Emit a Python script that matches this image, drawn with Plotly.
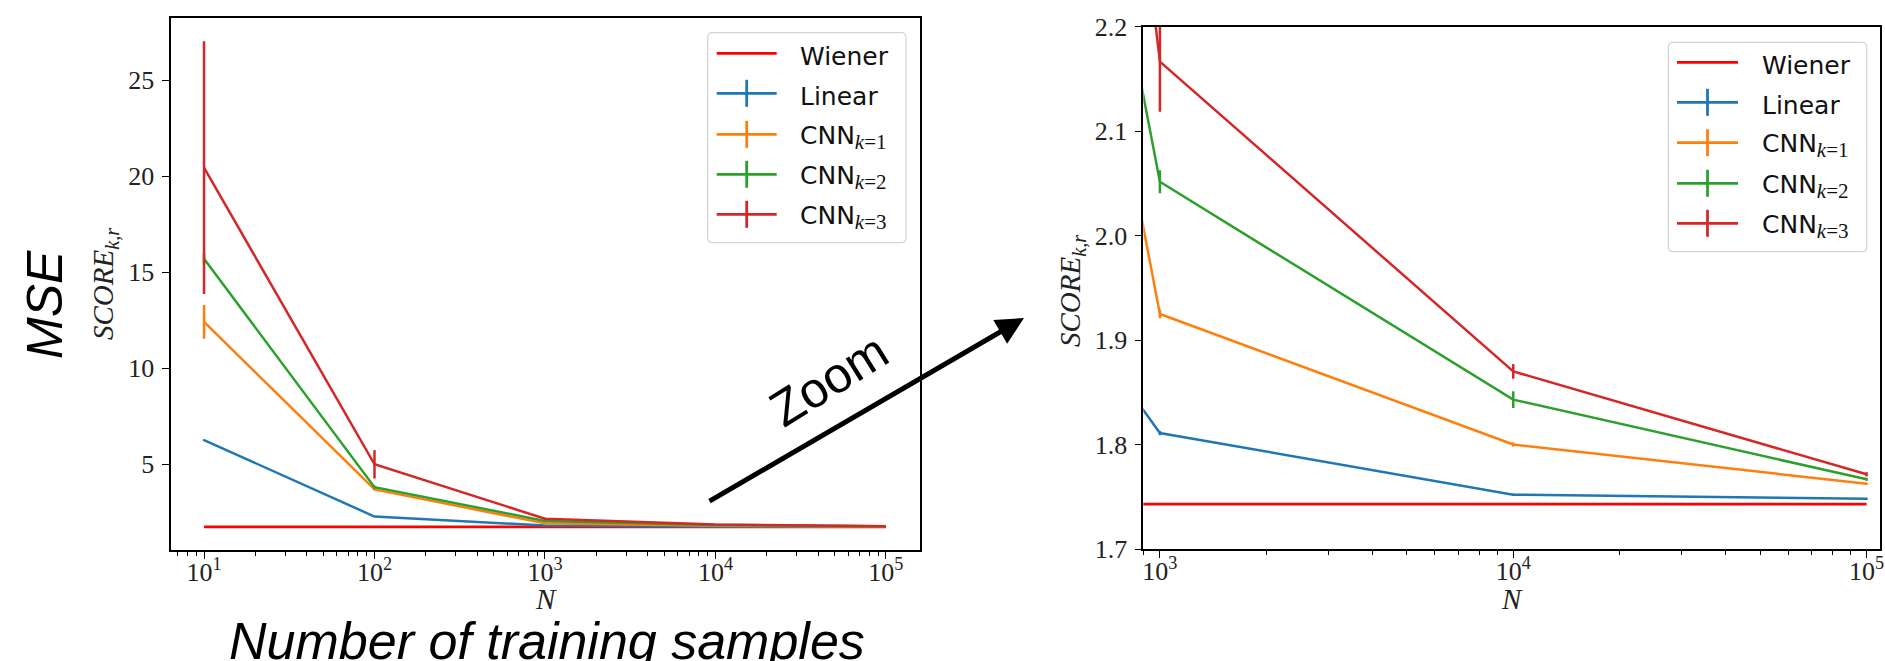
import plotly.graph_objects as go

# ---------------- data ----------------
N = [10, 100, 1000, 10000, 100000]
wiener = [1.743, 1.743, 1.743, 1.743, 1.743]
linear_mean = [6.26, 2.28, 1.811, 1.752, 1.748]
linear_err = [0.05, 0.01, 0.002, 0.001, 0.001]
cnn1_mean = [12.42, 3.69, 1.925, 1.800, 1.7625]
cnn1_err = [0.88, 0.05, 0.004, 0.002, 0.001]
cnn2_mean = [15.70, 3.81, 2.0515, 1.843, 1.7667]
cnn2_err = [0.30, 0.08, 0.011, 0.008, 0.0015]
cnn3_mean = [20.45, 5.00, 2.1665, 1.870, 1.7715]
cnn3_err = [6.58, 0.74, 0.048, 0.007, 0.002]

SUBF = "font-family:Liberation Serif;font-size:21px"
names = ["Wiener", "Linear",
         f"CNN<sub><span style='{SUBF}'><i>k</i>=1</span></sub>",
         f"CNN<sub><span style='{SUBF}'><i>k</i>=2</span></sub>",
         f"CNN<sub><span style='{SUBF}'><i>k</i>=3</span></sub>"]
colors = ["#ff0000", "#1f77b4", "#ff7f0e", "#2ca02c", "#d62728"]
means = [wiener, linear_mean, cnn1_mean, cnn2_mean, cnn3_mean]
errs = [None, linear_err, cnn1_err, cnn2_err, cnn3_err]

left_ticks = [10, 100, 1000, 10000, 100000]
left_ticktext = ["10<sup>1</sup>", "10<sup>2</sup>", "10<sup>3</sup>", "10<sup>4</sup>", "10<sup>5</sup>"]
right_ticks = [1000, 10000, 100000]
right_ticktext = ["10<sup>3</sup>", "10<sup>4</sup>", "10<sup>5</sup>"]
left_yticks = [5, 10, 15, 20, 25]
right_yticks = [1.7, 1.8, 1.9, 2.0, 2.1, 2.2]
right_yticktext = ["1.7", "1.8", "1.9", "2.0", "2.1", "2.2"]

minor_vals = [m * 10 ** d for d in range(0, 6) for m in range(2, 10)]

W, H = 1885, 661
def px(x):
    return x / W
def py(y):
    return 1 - y / H

fig = go.Figure()

for xa, ya in [("x", "y"), ("x2", "y2")]:
    for i in range(5):
        tr = dict(x=N, y=means[i], mode="lines", xaxis=xa, yaxis=ya,
                  line=dict(color=colors[i], width=2.7 if i == 0 else 2.5),
                  showlegend=False, hoverinfo="skip")
        if errs[i] is not None:
            tr["error_y"] = dict(type="data", array=errs[i], visible=True,
                                 color=colors[i], thickness=2.5, width=0)
        fig.add_trace(go.Scatter(**tr))

axis_common = dict(showline=True, linecolor="black", linewidth=1.6, mirror=True,
                   ticks="outside", tickcolor="black", tickwidth=1.4,
                   showgrid=False, zeroline=False, automargin=False,
                   tickfont=dict(family="Liberation Serif", size=26, color="#222"))

fig.update_layout(
    width=W, height=H,
    margin=dict(l=0, r=0, t=0, b=0, pad=0),
    paper_bgcolor="white", plot_bgcolor="white",
    xaxis=dict(type="log", domain=[px(171.3), px(920)], range=[0.808, 5.2],
               tickmode="array", tickvals=left_ticks, ticktext=left_ticktext, ticklen=7,
               ticklabelstandoff=-9,
               minor=dict(tickmode="array", tickvals=minor_vals, ticks="outside",
                          ticklen=4, tickcolor="black", tickwidth=1.2, showgrid=False),
               anchor="y", **axis_common),
    yaxis=dict(domain=[py(550), py(18.3)], range=[0.536, 28.23],
               tickmode="array", tickvals=left_yticks, ticklen=8, anchor="x",
               ticklabelstandoff=2, **axis_common),
    xaxis2=dict(type="log", domain=[px(1143.3), px(1880)], range=[2.953, 5.038],
                tickmode="array", tickvals=right_ticks, ticktext=right_ticktext, ticklen=7,
                ticklabelstandoff=-9,
                minor=dict(tickmode="array", tickvals=minor_vals, ticks="outside",
                           ticklen=4, tickcolor="black", tickwidth=1.2, showgrid=False),
                anchor="y2", **axis_common),
    yaxis2=dict(domain=[py(549), py(26.7)], range=[1.7, 2.2],
                tickmode="array", tickvals=right_yticks, ticktext=right_yticktext,
                ticklen=7, anchor="x2", ticklabelstandoff=2, **axis_common),
)

shapes = []
annotations = []

def rounded_box(x0, y0, x1, y1, r=5):
    X0, X1 = px(x0), px(x1)
    Y0, Y1 = py(y0), py(y1)
    rx, ry = r / W, r / H
    path = (f"M {X0+rx},{Y0} L {X1-rx},{Y0} Q {X1},{Y0} {X1},{Y0-ry} "
            f"L {X1},{Y1+ry} Q {X1},{Y1} {X1-rx},{Y1} "
            f"L {X0+rx},{Y1} Q {X0},{Y1} {X0},{Y1+ry} "
            f"L {X0},{Y0-ry} Q {X0},{Y0} {X0+rx},{Y0} Z")
    return dict(type="path", path=path, xref="paper", yref="paper",
                line=dict(color="#d4d4d4", width=1.2), fillcolor="rgba(255,255,255,0.85)")

legend_specs = [
    dict(box=(707.7, 32.7, 906, 242.7), ys=[53.3, 93.3, 134.3, 174.3, 214.3],
         hx=(716.7, 776.7), tx=798),
    dict(box=(1668.3, 42.3, 1866.7, 251.7), ys=[62.3, 102.3, 142.7, 183.3, 223.3],
         hx=(1677, 1738), tx=1760),
]
for spec in legend_specs:
    shapes.append(rounded_box(*spec["box"]))
    for i in range(5):
        yy = spec["ys"][i]
        hx0, hx1 = spec["hx"]
        shapes.append(dict(type="line", xref="paper", yref="paper",
                           x0=px(hx0), x1=px(hx1), y0=py(yy), y1=py(yy),
                           line=dict(color=colors[i], width=2.8)))
        if errs[i] is not None:
            cx = (hx0 + hx1) / 2
            shapes.append(dict(type="line", xref="paper", yref="paper",
                               x0=px(cx), x1=px(cx), y0=py(yy - 13.5), y1=py(yy + 13.5),
                               line=dict(color=colors[i], width=2.8)))
        annotations.append(dict(x=px(spec["tx"]), y=py(yy + 3), xref="paper", yref="paper",
                                text=names[i], showarrow=False, xanchor="left", yanchor="middle",
                                font=dict(family="DejaVu Sans", size=25, color="#111")))

# axis titles
for cx in [545.6, 1511.6]:
    annotations.append(dict(x=px(cx), y=py(599), xref="paper", yref="paper",
                            text="<i>N</i>", showarrow=False, xanchor="center", yanchor="middle",
                            font=dict(family="Liberation Serif", size=29, color="#222")))
for cx, cy in [(105, 284), (1072, 291)]:
    annotations.append(dict(x=px(cx), y=py(cy), xref="paper", yref="paper",
                            text="<i>SCORE</i><sub><i>k,r</i></sub>", showarrow=False,
                            textangle=-90, xanchor="center", yanchor="middle",
                            font=dict(family="Liberation Serif", size=29, color="#222")))

annotations.append(dict(x=px(45), y=py(305), xref="paper", yref="paper", text="<i>MSE</i>",
                        showarrow=False, textangle=-90, xanchor="center", yanchor="middle",
                        font=dict(family="Liberation Sans", size=50, color="black")))
annotations.append(dict(x=px(547), y=py(641), xref="paper", yref="paper",
                        text="<i>Number of training samples</i>",
                        showarrow=False, xanchor="center", yanchor="middle",
                        font=dict(family="Liberation Sans", size=52, color="black")))
annotations.append(dict(x=px(829), y=py(380), xref="paper", yref="paper", text="Zoom",
                        showarrow=False, textangle=-32, xanchor="center", yanchor="middle",
                        font=dict(family="Liberation Sans", size=50, color="black")))
annotations.append(dict(x=px(1024), y=py(318), xref="paper", yref="paper", text="",
                        showarrow=True, ax=-316, ay=184, axref="pixel", ayref="pixel",
                        arrowhead=2, arrowwidth=5, arrowsize=1.1, arrowcolor="black"))

fig.update_layout(shapes=shapes, annotations=annotations)
fig.write_html("out.html", config={"displayModeBar": False},
               post_script="document.body.style.margin='0';document.body.style.overflow='hidden';")
